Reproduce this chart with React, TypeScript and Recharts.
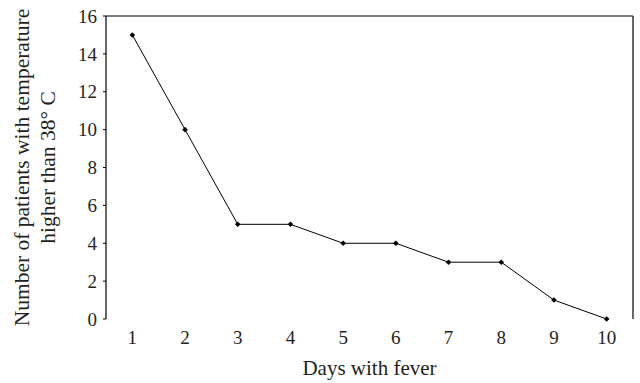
import React from "react";
import { LineChart, Line, XAxis, YAxis, ReferenceLine } from "recharts";

const days = [1, 2, 3, 4, 5, 6, 7, 8, 9, 10];
const patients = [15, 10, 5, 5, 4, 4, 3, 3, 1, 0];
const yTicks = [0, 2, 4, 6, 8, 10, 12, 14, 16];
const xBoundaryTicks = [0.5, 1.5, 2.5, 3.5, 4.5, 5.5, 6.5, 7.5, 8.5, 9.5, 10.5];
const yTitleLines = ["Number of patients with temperature", "higher than 38\u00B0 C"];
const xTitle = "Days with fever";

const data = days.map((d, i) => ({ day: d, value: patients[i] }));

const FONT = "Liberation Serif";
const TEXT = "#231f20";

const Diamond = (props: any) => {
  const { cx, cy } = props;
  if (cx == null || cy == null) return null;
  const r = 2.8;
  return (
    <polygon
      points={`${cx},${cy - r} ${cx + r},${cy} ${cx},${cy + r} ${cx - r},${cy}`}
      fill="#000"
      stroke="none"
    />
  );
};

const EmptyTick = () => <g />;

const YTitle = (props: any) => {
  const { viewBox } = props;
  const cy = viewBox.y + viewBox.height / 2;
  const xs = [22, 48];
  return (
    <g>
      {yTitleLines.map((t, i) => (
        <text
          key={i}
          x={xs[i]}
          y={cy}
          transform={`rotate(-90, ${xs[i]}, ${cy})`}
          textAnchor="middle"
          dominantBaseline="central"
          style={{ fontFamily: FONT }}
          fontSize={21.5}
          fill={TEXT}
        >
          {t}
        </text>
      ))}
    </g>
  );
};

export default function App() {
  return (
    <div style={{ position: "absolute", left: 0, top: 0, background: "#fff" }}>
      <LineChart
        width={640}
        height={383}
        data={data}
        margin={{ top: 16, right: 7, bottom: 0, left: 0 }}
      >
        <XAxis
          xAxisId="frame"
          type="number"
          dataKey="day"
          domain={[0.5, 10.5]}
          ticks={xBoundaryTicks}
          tick={<EmptyTick />}
          tickSize={3}
          height={0}
          axisLine={{ stroke: "#000", strokeWidth: 1.2 }}
          tickLine={{ stroke: "#000" }}
          allowDataOverflow
        />
        <XAxis
          xAxisId="main"
          type="number"
          dataKey="day"
          domain={[0.5, 10.5]}
          ticks={days}
          interval={0}
          axisLine={false}
          tickLine={false}
          tickSize={0}
          tickMargin={12}
          height={64}
          tick={{ fontFamily: FONT, fontSize: 19, fill: TEXT }}
          label={{
            value: xTitle,
            position: "insideBottom",
            offset: 8,
            fontFamily: FONT,
            fontSize: 21,
            fill: TEXT,
          }}
        />
        <YAxis
          width={106}
          domain={[0, 16]}
          ticks={yTicks}
          interval={0}
          tickSize={3}
          tickMargin={6}
          axisLine={{ stroke: "#000", strokeWidth: 1.2 }}
          tickLine={{ stroke: "#000" }}
          tick={{ fontFamily: FONT, fontSize: 19, fill: TEXT }}
          label={<YTitle />}
        />
        <ReferenceLine xAxisId="frame" y={16} stroke="#000" strokeWidth={1.2} ifOverflow="visible" />
        <ReferenceLine xAxisId="frame" x={10.5} stroke="#000" strokeWidth={1.2} ifOverflow="visible" />
        <Line
          xAxisId="frame"
          type="linear"
          dataKey="value"
          stroke="#000"
          strokeWidth={1}
          dot={<Diamond />}
          activeDot={false}
          isAnimationActive={false}
        />
      </LineChart>
    </div>
  );
}
